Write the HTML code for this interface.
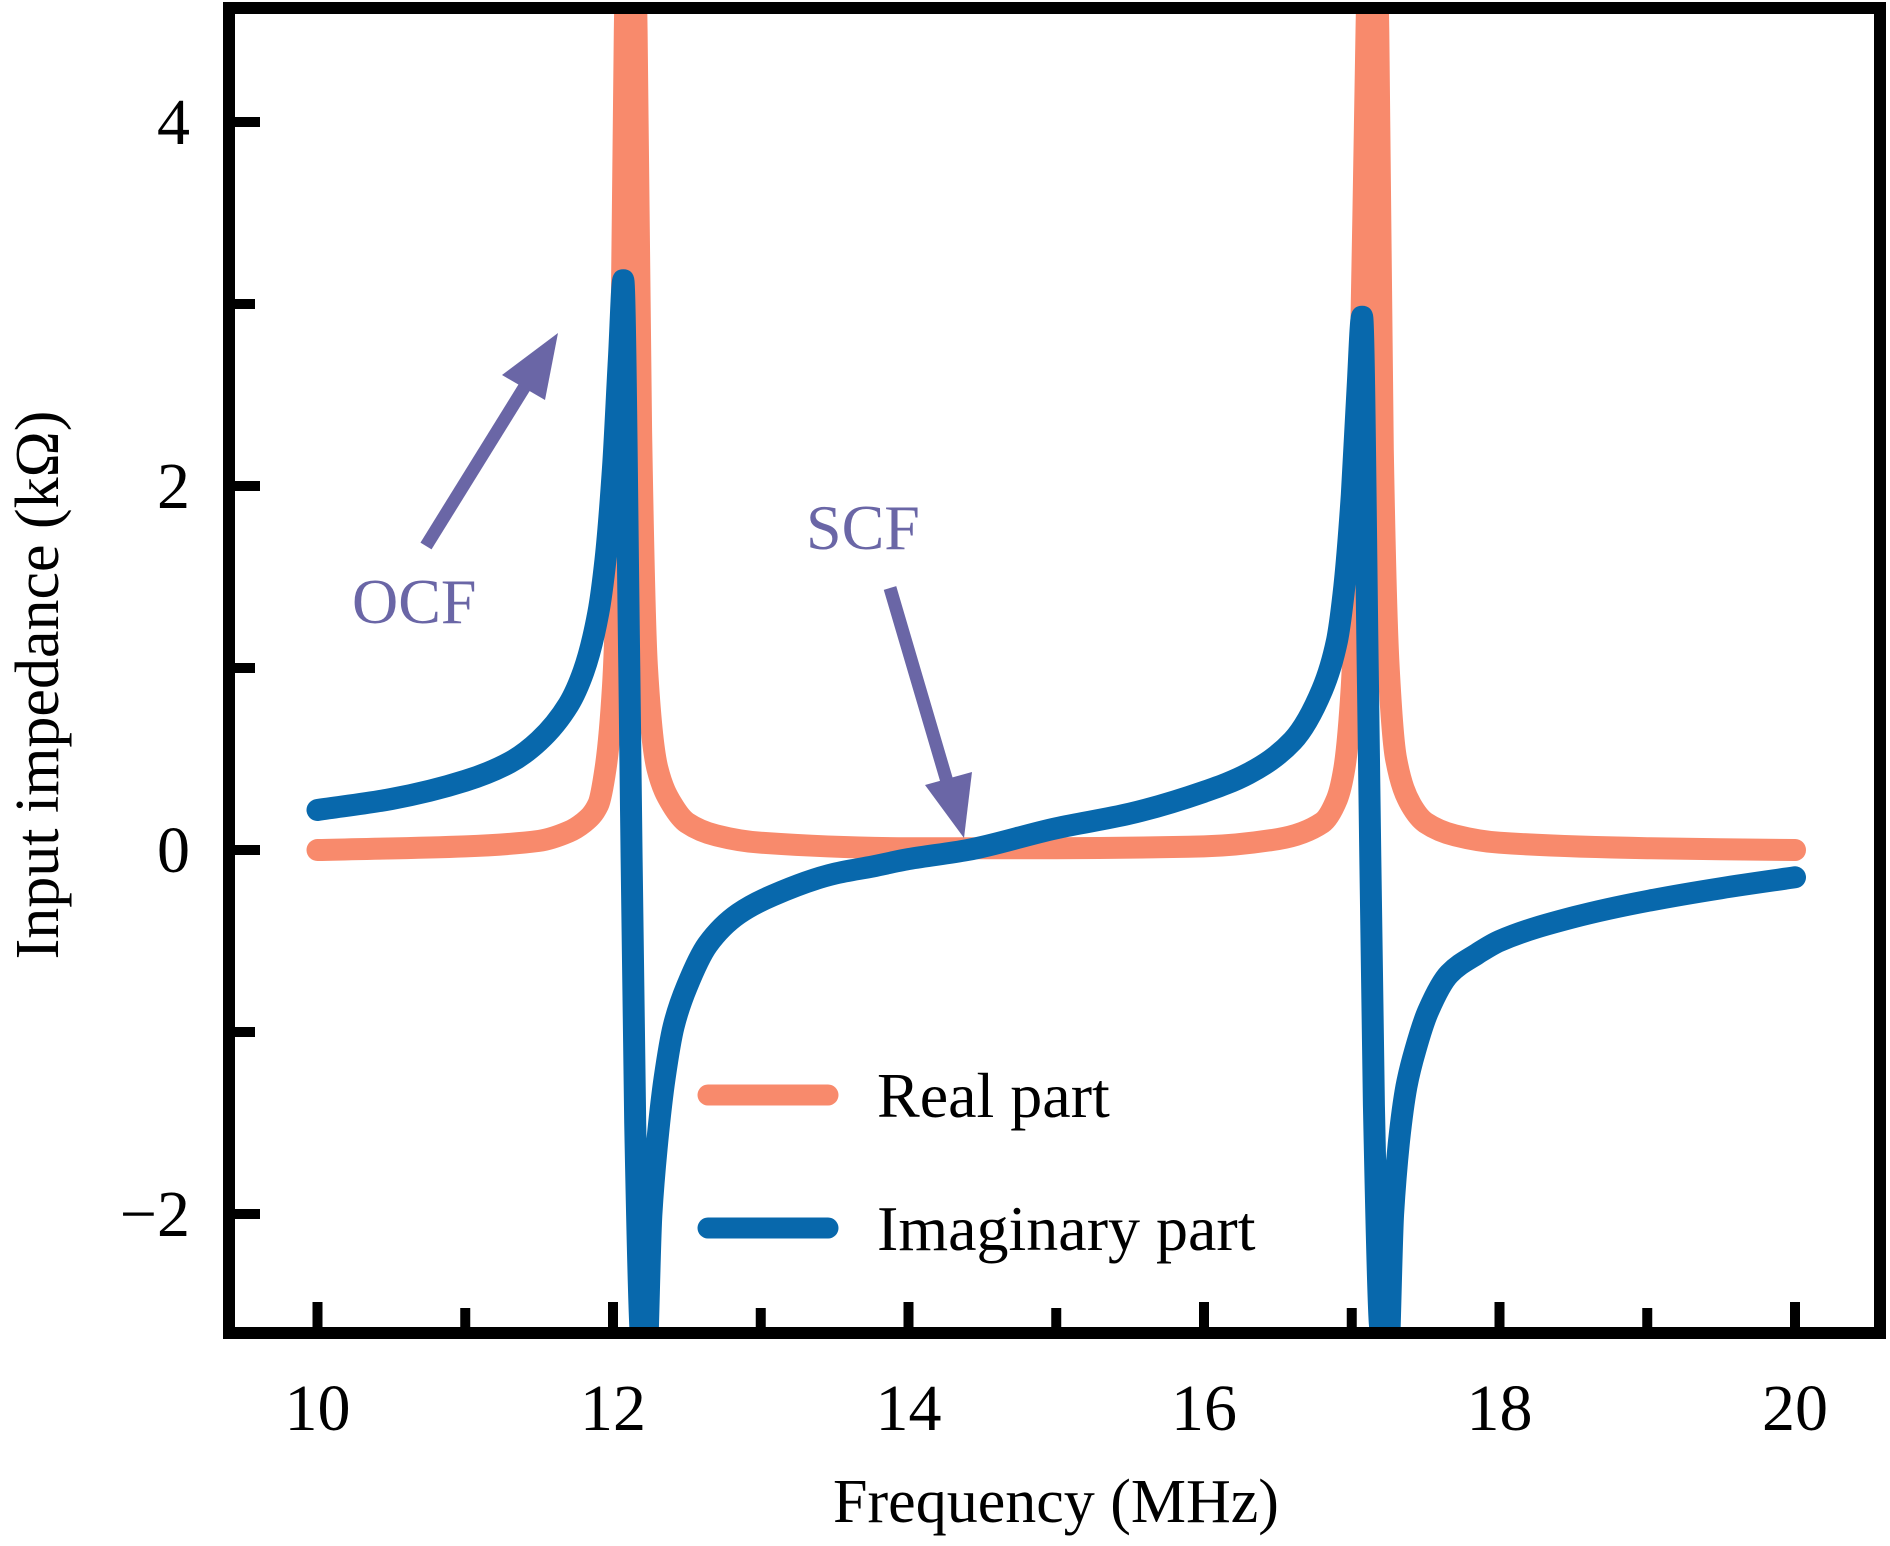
<!DOCTYPE html>
<html><head><meta charset="utf-8"><style>
html,body{margin:0;padding:0;background:#fff;}
svg{display:block;}
text{font-family:"Liberation Serif",serif;}
</style></head><body>
<svg id="chart" width="1890" height="1546" viewBox="0 0 1890 1546">
<defs><clipPath id="plotclip"><rect x="235" y="14" width="1640" height="1314"/></clipPath></defs>
<g id="series" clip-path="url(#plotclip)"></g>
<rect x="229" y="8" width="1651" height="1325" fill="none" stroke="#000" stroke-width="12"/>
<g id="xticks"></g>
<g id="yticks"></g>
<text x="1056" y="1522" font-size="62" text-anchor="middle">Frequency (MHz)</text>
<text transform="translate(58,685) rotate(-90)" font-size="62" text-anchor="middle">Input impedance (kΩ)</text>
<g>
<line x1="708" y1="1095" x2="828" y2="1095" stroke="#F88A6C" stroke-width="21" stroke-linecap="round"/>
<text x="877" y="1117" font-size="64">Real part</text>
<line x1="708" y1="1228" x2="828" y2="1228" stroke="#0868AC" stroke-width="21" stroke-linecap="round"/>
<text x="877" y="1250" font-size="64">Imaginary part</text>
</g>
<g fill="#6A66A6">
<text x="352" y="623" font-size="64" fill="#6A66A6">OCF</text>
<text x="806" y="549" font-size="64" fill="#6A66A6">SCF</text>
<line x1="426" y1="546" x2="527" y2="383" stroke="#6A66A6" stroke-width="13"/>
<polygon points="558,333 502,375 545,400"/>
<line x1="890" y1="588" x2="948" y2="785" stroke="#6A66A6" stroke-width="13"/>
<polygon points="964,838 925,785 972,772"/>
</g>
</svg>
<script>
const freqReal = [10,11,11.5,11.7,11.8,11.9,11.95,12.0,12.05,12.08,12.12,12.16,12.19,12.23,12.3,12.4,12.5,12.7,13,14,15,16,16.5,16.8,16.9,16.95,17.0,17.05,17.1,17.14,17.18,17.21,17.25,17.3,17.4,17.5,17.7,18,19,20];
const realPart = [0,0.02,0.05,0.1,0.15,0.25,0.45,0.9,2.3,4.5,6,4.5,2.3,1.0,0.45,0.25,0.15,0.08,0.04,0.01,0.01,0.02,0.06,0.15,0.28,0.45,0.9,2.2,4.5,6,4.5,2.2,1.0,0.5,0.25,0.15,0.08,0.04,0.01,0];
const freqImag = [10,10.5,11,11.3,11.5,11.7,11.8,11.9,11.95,12.0,12.04,12.07,12.11,12.15,12.19,12.22,12.26,12.3,12.35,12.41,12.5,12.64,12.85,13.08,13.5,13.76,14,14.4,15,15.5,16,16.3,16.6,16.8,16.9,16.95,17.0,17.04,17.07,17.11,17.15,17.19,17.24,17.28,17.32,17.37,17.43,17.52,17.66,17.85,18,18.5,19,19.5,20];
const imagPart = [0.22,0.28,0.38,0.48,0.6,0.8,0.98,1.3,1.6,2.1,2.7,3.13,1.0,-1.5,-2.7,-2.9,-2.0,-1.6,-1.25,-0.97,-0.75,-0.52,-0.35,-0.25,-0.13,-0.09,-0.05,0,0.12,0.2,0.32,0.42,0.6,0.88,1.15,1.45,1.95,2.55,2.93,0.9,-1.4,-2.6,-2.9,-2.0,-1.6,-1.3,-1.1,-0.88,-0.68,-0.57,-0.5,-0.37,-0.28,-0.21,-0.15];
const xTickLabels = [10,12,14,16,18,20];
const xMinor = [11,13,15,17,19];
const yTickLabels = [-2,0,2,4];
const yMinor = [-1,1,3];

const NS = "http://www.w3.org/2000/svg";
const xs = f => 317.5 + (f - 10) * 147.75;
const ys = v => 850 - v * 182;

function mk(tag, attrs, parent) {
  const el = document.createElementNS(NS, tag);
  for (const k in attrs) el.setAttribute(k, attrs[k]);
  parent.appendChild(el);
  return el;
}
function monotonePath(px, py) {
  const n = px.length, d = [], m = [];
  for (let i = 0; i < n - 1; i++) d.push((py[i+1] - py[i]) / (px[i+1] - px[i]));
  m[0] = d[0]; m[n-1] = d[n-2];
  for (let i = 1; i < n - 1; i++) {
    if (d[i-1] * d[i] <= 0) m[i] = 0;
    else { const h0 = px[i]-px[i-1], h1 = px[i+1]-px[i];
      const w1 = 2*h1 + h0, w2 = h1 + 2*h0;
      m[i] = (w1 + w2) / (w1 / d[i-1] + w2 / d[i]); }
  }
  let s = 'M' + px[0].toFixed(1) + ',' + py[0].toFixed(1);
  for (let i = 0; i < n - 1; i++) {
    const h = (px[i+1] - px[i]) / 3;
    s += ' C' + (px[i]+h).toFixed(1) + ',' + (py[i]+m[i]*h).toFixed(1) + ' ' +
         (px[i+1]-h).toFixed(1) + ',' + (py[i+1]-m[i+1]*h).toFixed(1) + ' ' +
         px[i+1].toFixed(1) + ',' + py[i+1].toFixed(1);
  }
  return s;
}
const series = document.getElementById('series');
function drawLine(fx, vy, color, name) {
  const d = monotonePath(fx.map(xs), vy.map(ys));
  const p = mk('path', {d: d, fill: 'none', stroke: color, 'stroke-width': 22, 'stroke-linecap': 'round', 'stroke-linejoin': 'round'}, series);
  
  
}
drawLine(freqReal, realPart, '#F88A6C', 'real-part-line');
drawLine(freqImag, imagPart, '#0868AC', 'imaginary-part-line');

const xg = document.getElementById('xticks');
xTickLabels.forEach(v => {
  const t = mk('rect', {x: xs(v) - 5, y: 1302, width: 10, height: 30, fill: '#000'}, xg);
  
  
  const l = mk('text', {x: xs(v), y: 1430, 'font-size': 66, 'text-anchor': 'middle'}, xg);
  l.textContent = v;
  
  
});
xMinor.forEach(v => {
  const t = mk('rect', {x: xs(v) - 5, y: 1308, width: 10, height: 24, fill: '#000'}, xg);
  
  
});
const yg = document.getElementById('yticks');
yTickLabels.forEach(v => {
  const t = mk('rect', {x: 233, y: ys(v) - 5, width: 27, height: 10, fill: '#000'}, yg);
  
  
  const l = mk('text', {x: 190, y: ys(v) + 22, 'font-size': 66, 'text-anchor': 'end'}, yg);
  l.textContent = v < 0 ? '\u2212' + Math.abs(v) : v;
  
  
});
yMinor.forEach(v => {
  const t = mk('rect', {x: 233, y: ys(v) - 5, width: 22, height: 10, fill: '#000'}, yg);
  
  
});
</script>
</body></html>
